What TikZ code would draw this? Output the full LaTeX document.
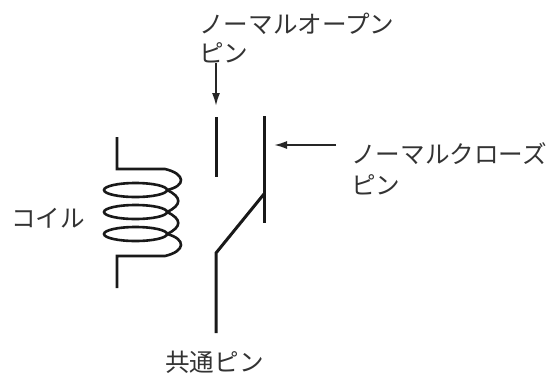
\documentclass[tikz,border=0pt]{standalone}
\usepackage{fontspec}
\setmainfont{Noto Sans CJK JP}[Scale=1]
\usetikzlibrary{positioning,arrows.meta}
\tikzset{
  wire/.style={line width=3pt, black!90},
  coilwire/.style={line width=2.6pt, black!90},
  pointer/.style={line width=1.8pt, black!85, -{Latex[length=13pt,width=8pt]}},
  pinlabel/.style={font=\fontsize{24.6}{24.6}\selectfont\addfontfeature{Weight=Light}, black!80, anchor=west, inner sep=0pt},
}
\begin{document}
\begin{tikzpicture}[x=1pt,y=-1pt]
\useasboundingbox (0,0) rectangle (552,376);
% Coil
\draw[coilwire] (117,137) -- (117,169) -- (165,169) .. controls (186,174) and (186,186) .. (167,190);
\draw[coilwire] (167,190) .. controls (182,197) and (182,205) .. (167,212);
\draw[coilwire] (167,212) .. controls (182,219) and (182,227) .. (167,234);
\draw[coilwire] (167,234) .. controls (186,239) and (186,251) .. (165,256) -- (117,256) -- (117,288);
\draw[coilwire] (135.5,190) ellipse [x radius=31.5, y radius=7];
\draw[coilwire] (135.5,212) ellipse [x radius=31.5, y radius=7];
\draw[coilwire] (135.5,234) ellipse [x radius=31.5, y radius=7];
% Contacts
\draw[wire] (216,117) -- (216,177);
\draw[wire] (264,116) -- (264,223);
\draw[wire] (216,333) -- (216,253) -- (264,194);
% Nodes
\node[pinlabel] (openpin) at (199,24) {ノーマルオープン};
\node[pinlabel] (openpin2) at (199,53) {ピン};
\node[pinlabel] (closepin) at (351,154) {ノーマルクローズ};
\node[pinlabel] (closepin2) at (351,185) {ピン};
\node[pinlabel] (coil) at (11,218) {コイル};
\node[pinlabel] (compin) at (165,362) {共通ピン};
\coordinate (opentip) at (216,106);
\coordinate (closestart) at (336,145);
\coordinate (closetip) at (274,145);
% Lines
\draw[pointer] (216,63) -- (opentip);
\draw[pointer] (closestart) -- (closetip);
\end{tikzpicture}
\end{document}
